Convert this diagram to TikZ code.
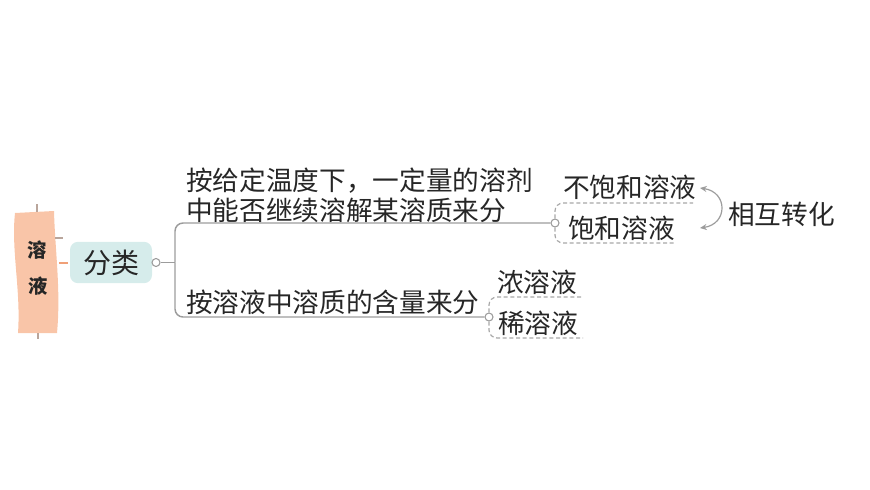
\documentclass[tikz,border=0pt]{standalone}
\usepackage{fontspec}
\setmainfont{Noto Sans CJK SC}
\usetikzlibrary{arrows.meta}
\definecolor{scrollpink}{HTML}{F9C5A8}
\definecolor{tickgray}{HTML}{B9A59B}
\definecolor{tickorange}{HTML}{F0A078}
\definecolor{boxteal}{HTML}{D6ECEB}
\definecolor{linegray}{HTML}{9C9C9C}
\definecolor{dashgray}{HTML}{A8A8A8}
\begin{document}
\begin{tikzpicture}
  [x=0.75pt,y=-0.75pt,
   every node/.style={inner sep=0pt,text=black!85,font=\fontsize{20}{22.5}\selectfont},
   knob/.style={circle,draw=linegray,fill=white,line width=0.8pt,minimum size=6pt},
   branch/.style={draw=linegray,line width=1.1pt,rounded corners=6pt},
   dashline/.style={draw=dashgray,line width=0.9pt,dash pattern=on 3pt off 2pt,rounded corners=6pt}]
  \useasboundingbox (0,0) rectangle (870,489);
  % scroll
  \fill[scrollpink] (15,213) .. controls (11,250) and (21,290) .. (18,333)
    -- (57,333) .. controls (61,290) and (55,250) .. (54,211) -- cycle;
  \draw[tickgray,line width=1.2pt] (37,204) -- (37,212) (38,333) -- (38,339) (55,238) -- (63,238);
  \draw[tickorange,line width=2pt] (59,263) -- (68,263);
  \node (s1)[font=\fontsize{14.5}{16}\bfseries] at (37,250) {溶};
  \node (s2)[font=\fontsize{14.5}{16}\bfseries] at (38,286) {液};
  % main node
  \node (root)[fill=boxteal,rounded corners=6pt,minimum width=61.5pt,minimum height=31pt,
    font=\fontsize{21}{24}\selectfont] at (111,262.5) {分类};
  \node (c0)[knob] at (156,262.5) {};
  \coordinate (j) at (175,262.5);
  \node (c1)[knob] at (555,223) {};
  \node (c2)[knob] at (489,317) {};
  \node (t1)[anchor=west,align=left] at (186,195) {按给定温度下，一定量的溶剂\\中能否继续溶解某溶质来分};
  \node (t2)[anchor=west] at (186,302) {按溶液中溶质的含量来分};
  % leaves
  \node (n1)[anchor=west] at (563,187) {不饱和溶液};
  \node (n2)[anchor=west] at (568,228) {饱和溶液};
  \node (n3)[anchor=west] at (497,282) {浓溶液};
  \node (n4)[anchor=west] at (498,323) {稀溶液};
  \node (n5)[anchor=west] at (728,214) {相互转化};
  \coordinate (u1) at (693,203);
  \coordinate (d1) at (675,243);
  \coordinate (u2) at (583,297);
  \coordinate (d2) at (583,338);
  \coordinate (a1) at (700,188);
  \coordinate (a2) at (700,228);
  \draw[branch] (c0.east) -- (j);
  \foreach \to in {c1,c2}
    \draw[branch] (j) |- (\to.west);
  \foreach \from/\to in {c1.north/u1,c1.south/d1,c2.north/u2,c2.south/d2}
    \draw[dashline] (\from) |- (\to);
  \draw[linegray,line width=0.9pt,{Stealth[length=5pt,width=4.5pt]}-{Stealth[length=5pt,width=4.5pt]}]
    (a1) .. controls (728,192) and (728,224) .. (a2);
\end{tikzpicture}
\end{document}
